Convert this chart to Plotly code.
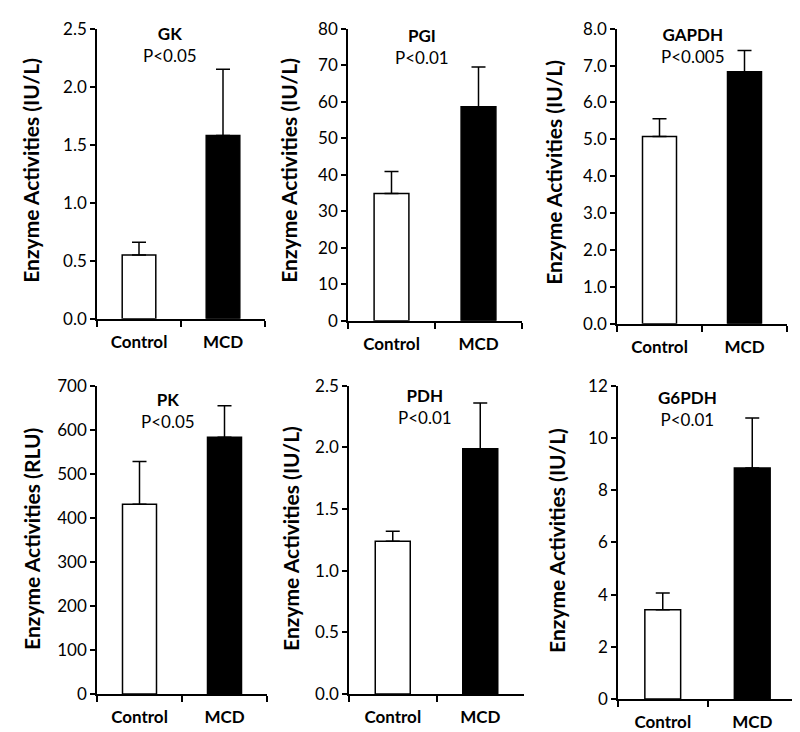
import plotly.graph_objects as go

# values
groups = ["Control", "MCD"]
enzymes = ["GK", "PGI", "GAPDH", "PK", "PDH", "G6PDH"]
p_labels = ["P<0.05", "P<0.01", "P<0.005", "P<0.05", "P<0.01", "P<0.01"]
units = ["IU/L", "IU/L", "IU/L", "RLU", "IU/L", "IU/L"]
control_mean = [0.55, 34.9, 5.08, 431, 1.24, 3.42]
control_err = [0.11, 6.0, 0.48, 97, 0.08, 0.64]
mcd_mean = [1.58, 58.6, 6.83, 583, 1.99, 8.85]
mcd_err = [0.57, 10.9, 0.58, 72, 0.37, 1.92]
y_max = [2.5, 80, 8.0, 700, 2.5, 12]
y_step = [0.5, 10, 1.0, 100, 0.5, 2]
y_fmt = [".1f", "d", ".1f", "d", ".1f", "d"]

# the page puts the figure 8px in from the left, and lower / squeezed
# vertically; these map target screen pixels back to figure pixels
PAD_X = 8
Y_OFF, Y_SCALE = 18.3, 0.9706
W, H = 792, 724
FONT = "Lato"

# panel plot areas in screen pixels: (left, right, top, bottom)
# (top row starts a little lower than the original so the top tick label fits)
panels = [
    (97, 265, 28, 318),
    (348, 522, 28, 320),
    (617, 787, 28, 323),
    (97, 267, 385, 693),
    (349, 524, 385, 693),
    (618, 797, 385, 698),
]
# centre of the enzyme / p-value label and of the y title, in screen pixels
label_pos = [(170, 44), (422, 46), (693, 45), (168, 410), (425, 406), (687, 408)]
ytitle_pos = [(31, 170), (289, 170), (554, 172), (32, 538), (291, 538), (557, 540)]


def px_x(v):
    return (v - PAD_X) / W


def px_y(v):
    return min(1.0, 1 - (v - Y_OFF) / Y_SCALE / H)


fig = go.Figure()
layout = {}

for i, name in enumerate(enzymes):
    n = i + 1
    sfx = "" if n == 1 else str(n)
    left, right, top, bottom = panels[i]

    fig.add_trace(
        go.Bar(
            x=groups,
            y=[control_mean[i], mcd_mean[i]],
            width=0.4,
            marker=dict(color=["white", "black"], line=dict(color="black", width=1.5)),
            error_y=dict(
                type="data",
                symmetric=False,
                array=[control_err[i], mcd_err[i]],
                arrayminus=[0, 0],
                color="black",
                thickness=1.5,
                width=7,
            ),
            xaxis="x" + sfx,
            yaxis="y" + sfx,
            showlegend=False,
        )
    )

    layout["xaxis" + sfx] = dict(
        domain=[px_x(left), px_x(right)],
        anchor="y" + sfx,
        type="category",
        range=[-0.5, 1.5],
        showline=True,
        linecolor="black",
        linewidth=1.5,
        ticks="outside",
        tickson="boundaries",
        ticklen=6,
        tickwidth=1.5,
        tickcolor="black",
        ticklabelstandoff=7,
        tickfont=dict(family=FONT, size=17, color="black", weight="bold"),
        showgrid=False,
    )
    layout["yaxis" + sfx] = dict(
        domain=[px_y(bottom), px_y(top)],
        anchor="x" + sfx,
        range=[0, y_max[i]],
        dtick=y_step[i],
        tick0=0,
        tickformat=y_fmt[i],
        showline=True,
        linecolor="black",
        linewidth=1.5,
        ticks="outside",
        ticklen=5,
        tickwidth=1.5,
        tickcolor="black",
        tickfont=dict(family=FONT, size=17, color="black"),
        showgrid=False,
        zeroline=False,
    )

annotations = []
for i, name in enumerate(enzymes):
    lx, ly = label_pos[i]
    annotations.append(
        dict(
            x=px_x(lx),
            y=px_y(ly),
            xref="paper",
            yref="paper",
            text="<b>" + name + "</b><br>" + p_labels[i].replace("<", "&lt;"),
            showarrow=False,
            font=dict(family=FONT, size=17, color="black"),
            xanchor="center",
            yanchor="middle",
        )
    )
    tx, ty = ytitle_pos[i]
    annotations.append(
        dict(
            x=px_x(tx),
            y=px_y(ty),
            xref="paper",
            yref="paper",
            text="<b>Enzyme Activities (" + units[i] + ")</b>",
            textangle=-90,
            showarrow=False,
            font=dict(family=FONT, size=21, color="black"),
            xanchor="center",
            yanchor="middle",
        )
    )

fig.update_layout(
    **layout,
    annotations=annotations,
    width=W,
    height=H,
    margin=dict(l=0, r=0, t=0, b=0),
    paper_bgcolor="white",
    plot_bgcolor="white",
)

fig.write_html("out.html")
